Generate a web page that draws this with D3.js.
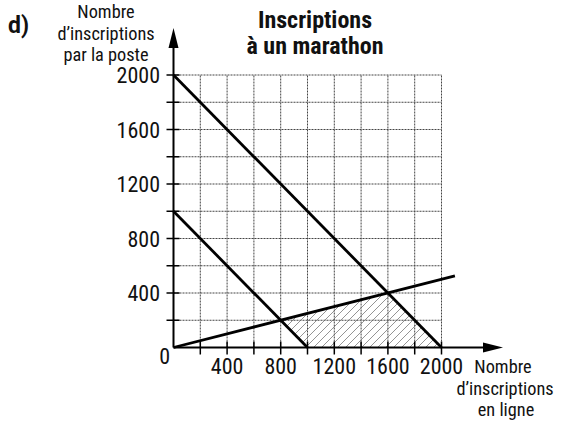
<!DOCTYPE html>
<html>
<head>
<meta charset="utf-8">
<script src="https://cdn.jsdelivr.net/npm/d3@7"></script>
<style>
  body { margin: 0; background: #fff; }
  text { font-family: "Roboto Condensed", Roboto, sans-serif; font-stretch: condensed; fill: #111; }
</style>
</head>
<body>
<div id="container"></div>
<script>
var width = 565,
    height = 422;

// data
var xLabels = [400, 800, 1200, 1600, 2000];
var yLabels = [400, 800, 1200, 1600, 2000];
var gridValues = [200, 400, 600, 800, 1000, 1200, 1400, 1600, 1800, 2000];
var contraintes = [
    [[0, 2000], [2000, 0]],
    [[0, 1000], [1000, 0]],
    [[0, 0], [2100, 525]]
];
var solution = [[800, 200], [1000, 0], [2000, 0], [1600, 400]];
var yTitle = ["Nombre", "d\u2019inscriptions", "par la poste"];
var titre = ["Inscriptions", "\u00e0 un marathon"];
var xTitle = ["Nombre", "d\u2019inscriptions", "en ligne"];

var svg = d3.select("#container").append("svg")
    .attr("width", width)
    .attr("height", height);

var x = d3.scaleLinear().domain([0, 2000]).range([173.5, 441.5]);
var y = d3.scaleLinear().domain([0, 2000]).range([347.5, 75]);

// grid
svg.selectAll(".gv")
    .data(gridValues)
    .enter().append("line")
    .attr("x1", d => x(d)).attr("x2", d => x(d))
    .attr("y1", y(0)).attr("y2", y(2000))
    .attr("stroke", "#444")
    .attr("stroke-width", 1)
    .attr("stroke-dasharray", "2,1");
svg.selectAll(".gh")
    .data(gridValues)
    .enter().append("line")
    .attr("y1", d => y(d)).attr("y2", d => y(d))
    .attr("x1", x(0)).attr("x2", x(2000))
    .attr("stroke", "#444")
    .attr("stroke-width", 1)
    .attr("stroke-dasharray", "2,1");

// hatched region
var poly = d3.line().x(d => x(d[0])).y(d => y(d[1]));
svg.append("clipPath").attr("id", "clipSol")
    .append("path")
    .attr("d", poly(solution) + "Z");
var hatch = svg.append("g").attr("clip-path", "url(#clipSol)");
for (let k = -300; k < 400; k += 8) {
    hatch.append("line")
        .attr("x1", x(0) + k).attr("y1", y(0))
        .attr("x2", x(0) + k + 300).attr("y2", y(0) - 300)
        .attr("stroke", "#666")
        .attr("stroke-width", 0.7);
}

// lines
svg.selectAll(".contrainte")
    .data(contraintes)
    .enter().append("path")
    .attr("d", d => poly(d))
    .attr("fill", "none")
    .attr("stroke", "#000")
    .attr("stroke-width", 2.8);

// axes
svg.append("line")
    .attr("x1", x(0)).attr("y1", y(0))
    .attr("x2", 485).attr("y2", y(0))
    .attr("stroke", "#000").attr("stroke-width", 2);
svg.append("path")
    .attr("d", "M483," + (y(0) - 5) + "L503," + y(0) + "L483," + (y(0) + 5) + "Z")
    .attr("fill", "#000");
svg.append("line")
    .attr("x1", x(0)).attr("y1", y(0))
    .attr("x2", x(0)).attr("y2", 46)
    .attr("stroke", "#000").attr("stroke-width", 2);
svg.append("path")
    .attr("d", "M" + (x(0) - 5) + ",48L" + x(0) + ",28L" + (x(0) + 5) + ",48Z")
    .attr("fill", "#000");

// ticks
svg.selectAll(".tx")
    .data(gridValues)
    .enter().append("line")
    .attr("x1", d => x(d)).attr("x2", d => x(d))
    .attr("y1", y(0) - 6).attr("y2", y(0) + 7)
    .attr("stroke", "#000").attr("stroke-width", 1.5);
svg.selectAll(".ty")
    .data(gridValues)
    .enter().append("line")
    .attr("y1", d => y(d)).attr("y2", d => y(d))
    .attr("x1", x(0) - 7).attr("x2", x(0) + 6)
    .attr("stroke", "#000").attr("stroke-width", 1.5);

// tick labels
svg.selectAll(".lx")
    .data(xLabels)
    .enter().append("text")
    .attr("x", d => x(d))
    .attr("y", 374)
    .attr("text-anchor", "middle")
    .attr("font-size", 22)
    .text(d => d);
svg.selectAll(".ly")
    .data(yLabels)
    .enter().append("text")
    .attr("x", 160)
    .attr("y", d => y(d) + 8)
    .attr("text-anchor", "end")
    .attr("font-size", 22)
    .text(d => d);
svg.append("text")
    .attr("x", 170).attr("y", 364)
    .attr("text-anchor", "end")
    .attr("font-size", 22)
    .text("0");

// titles
svg.append("text")
    .attr("x", 8).attr("y", 33)
    .attr("font-size", 23).attr("font-weight", "bold")
    .style("font-family", "Roboto, sans-serif")
    .style("font-stretch", "normal")
    .text("d)");

function bloc(lignes, xs, y0, dy, size, bold) {
    let t = svg.append("text")
        .attr("text-anchor", "middle")
        .attr("font-size", size)
        .attr("font-weight", bold ? "bold" : "normal");
    t.selectAll("tspan")
        .data(lignes)
        .enter().append("tspan")
        .attr("x", (d, i) => xs[i])
        .attr("y", (d, i) => y0 + i * dy)
        .text(d => d);
}

bloc(yTitle, [106, 106, 106], 18, 21.5, 18.3, false);
bloc(titre, [315, 315], 28, 26, 24, true);
bloc(xTitle, [503, 505, 506], 373, 21.5, 18.3, false);
</script>
</body>
</html>
